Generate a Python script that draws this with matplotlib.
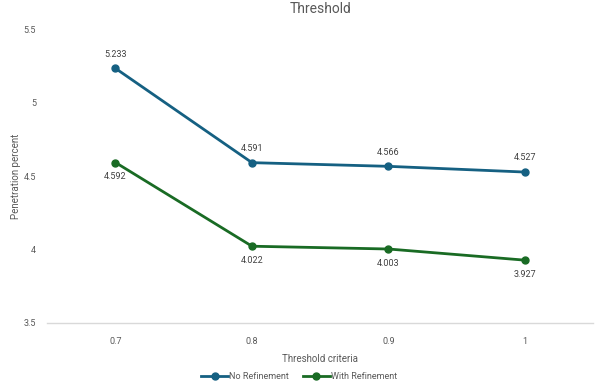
import matplotlib
matplotlib.use("Agg")
import matplotlib.pyplot as plt

plt.rcParams["font.family"] = ["Roboto", "DejaVu Sans"]

categories = ["0.7", "0.8", "0.9", "1"]
no_refinement = [5.233, 4.591, 4.566, 4.527]
with_refinement = [4.592, 4.022, 4.003, 3.927]

BLUE = "#156082"
GREEN = "#196B24"
GRAY = "#595959"

fig = plt.figure(figsize=(5.98, 3.89), dpi=100)
ax = fig.add_axes([0.079, 0.170, 0.913, 0.755])

x = list(range(len(categories)))
ax.plot(x, no_refinement, color=BLUE, lw=2.0, marker="o", ms=5, label="No Refinement")
ax.plot(x, with_refinement, color=GREEN, lw=2.0, marker="o", ms=5, label="With Refinement")

for xi, v in zip(x, no_refinement):
    ax.annotate(f"{v:.3f}", (xi, v), xytext=(0, 7), textcoords="offset points",
                ha="center", va="bottom", fontsize=6.5, color="#404040")
for xi, v in zip(x, with_refinement):
    ax.annotate(f"{v:.3f}", (xi, v), xytext=(0, -7), textcoords="offset points",
                ha="center", va="top", fontsize=6.5, color="#404040")

ax.set_xlim(-0.5, len(categories) - 0.5)
ax.set_ylim(3.5, 5.5)
ax.set_xticks(x)
ax.set_xticklabels(categories)
ax.set_yticks([3.5, 4, 4.5, 5, 5.5])
ax.set_yticklabels(["3.5", "4", "4.5", "5", "5.5"])
ax.tick_params(length=0, labelsize=6.5, labelcolor=GRAY, pad=10)
ax.tick_params(axis="y", pad=8)

for s in ["top", "right", "left"]:
    ax.spines[s].set_visible(False)
ax.spines["bottom"].set_color("#D9D9D9")
ax.spines["bottom"].set_linewidth(1)

ax.set_title("Threshold", fontsize=10, color=GRAY, pad=12)
ax.set_xlabel("Threshold criteria", fontsize=7, color=GRAY, labelpad=6)
ax.set_ylabel("Penetration percent", fontsize=7, color=GRAY)
ax.yaxis.set_label_coords(-0.048, 0.5)

fig.legend(loc="lower center", bbox_to_anchor=(0.5, 0.0), ncol=2, frameon=False,
           fontsize=6.5, labelcolor=GRAY, handlelength=3, handletextpad=0.1,
           columnspacing=1.5)

fig.savefig("out.png", dpi=100)
